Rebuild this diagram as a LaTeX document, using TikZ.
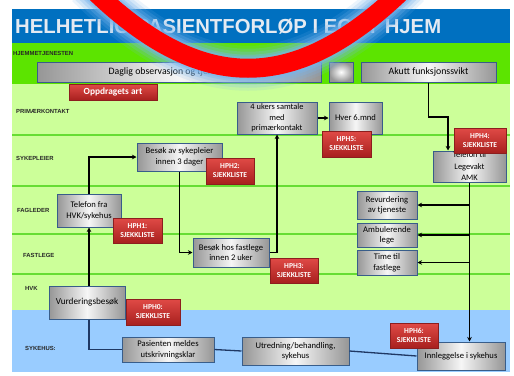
\documentclass[tikz,border=0pt]{standalone}
\usepackage{fontspec}
\setmainfont{Carlito}
\newfontfamily\arialfont{Liberation Sans}
\usetikzlibrary{arrows.meta,shadows}

\definecolor{titleblue}{RGB}{0,112,192}
\definecolor{titletext}{RGB}{228,234,242}
\definecolor{homegreen}{RGB}{92,228,0}
\definecolor{lanegreen}{RGB}{204,255,153}
\definecolor{laneline}{RGB}{102,221,51}
\definecolor{hospblue}{RGB}{153,204,255}
\definecolor{boxedge}{RGB}{56,93,138}
\definecolor{boxgray}{RGB}{150,150,150}
\definecolor{boxlight}{RGB}{246,246,246}
\definecolor{hphtop}{RGB}{224,74,70}
\definecolor{hphbot}{RGB}{168,32,30}
\definecolor{hphedge}{RGB}{140,30,30}
\definecolor{navyline}{RGB}{31,56,100}
\definecolor{swooshred}{RGB}{255,0,0}
\definecolor{glowblue}{RGB}{120,180,235}

% box from its corners: style, name, x1, y1, x2, y2, text
\newcommand\placebox[7]{%
  \pgfmathsetmacro\pbcx{(#3+#5)/2}\pgfmathsetmacro\pbcy{(#4+#6)/2}%
  \pgfmathsetmacro\pbw{#5-#3}\pgfmathsetmacro\pbh{#6-#4}%
  \node[#1, minimum width=\pbw pt, minimum height=\pbh pt] (#2) at (\pbcx,\pbcy) {#7};}

\begin{document}
\begin{tikzpicture}[x=1pt,y=-1pt,
  gbox/.style={draw=boxedge, line width=1pt, left color=boxgray, right color=boxgray,
    middle color=boxlight, align=center, inner sep=0pt, text=black,
    font=\fontsize{8.6}{10.5}\selectfont,
    drop shadow={shadow xshift=0.6pt, shadow yshift=-1pt, opacity=0.3}},
  hph/.style={draw=hphedge, line width=0.8pt, top color=hphtop, bottom color=hphbot,
    align=center, inner sep=0pt, text=white,
    font=\fontsize{7.6}{9}\selectfont\bfseries,
    drop shadow={shadow xshift=0.8pt, shadow yshift=-1.2pt, opacity=0.4}},
  lanelabel/.style={anchor=west, inner sep=0pt, text=black!85,
    font=\arialfont\bfseries\fontsize{5.9}{6}\selectfont},
  flow/.style={draw=black, line width=1.1pt, -{Stealth[length=4.5pt,width=4.5pt]}},
  hosp/.style={draw=navyline, line width=1.3pt},
  laneedge/.style={draw=laneline, line width=1.5pt}]

\useasboundingbox (0,0) rectangle (514,375);
\fill[white] (0,0) rectangle (514,375);

% bands
\fill[titleblue] (12,9) rectangle (510,43);
\fill[homegreen] (12,43) rectangle (510,84);
\fill[lanegreen] (12,84) rectangle (510,310);
\fill[hospblue] (12,310) rectangle (510,372);
\foreach \ly in {135,186,234,274}
  \draw[laneedge] (12,\ly) -- (510,\ly);

% title and lane names
\node[anchor=base west, inner sep=0pt, text=titletext,
  font=\arialfont\bfseries\fontsize{20.3}{24}\selectfont] (title) at (15,33)
  {HELHETLIG PASIENTFORLØP I EGET HJEM};
\node[lanelabel] (lhome) at (13,53) {HJEMMETJENESTEN};
\node[lanelabel] (lprim) at (16,111) {PRIMÆRKONTAKT};
\node[lanelabel] (lsyk) at (16,158) {SYKEPLEIER};
\node[lanelabel] (lfag) at (17,210) {FAGLEDER};
\node[lanelabel] (lfast) at (23,255) {FASTLEGE};
\node[lanelabel] (lhvk) at (25,288) {HVK};
\node[lanelabel] (lsh) at (25,348) {SYKEHUS:};

% process boxes
\placebox{gbox, font=\fontsize{9.8}{11}\selectfont}{daglig}{37}{62}{321}{82}
  {Daglig observasjon og tjenesteyting}
\placebox{gbox, inner color=white, outer color=boxgray}{blank}{329}{62}{353}{82}{}
\placebox{gbox, font=\fontsize{9.8}{11}\selectfont}{akutt}{361}{62}{496}{82}
  {Akutt funksjonssvikt}
\placebox{gbox, font=\fontsize{8.4}{10.5}\selectfont}{samtale}{237}{102}{317}{134}
  {4 ukers samtale\\med\\primærkontakt}
\placebox{gbox}{hver}{329}{102}{382}{134}{Hver 6.mnd}
\placebox{gbox, font=\fontsize{8.4}{11.5}\selectfont}{legevakt}{433}{151}{506}{182}
  {Telefon til\\Legevakt\\AMK}
\placebox{gbox}{besokspl}{137}{143}{222}{171}{Besøk av sykepleier\\innen 3 dager}
\placebox{gbox}{telfra}{57}{194}{121}{227}{Telefon fra\\HVK/sykehus}
\placebox{gbox}{besokfl}{193}{238}{269}{267}{Besøk hos fastlege\\innen 2 uker}
\placebox{gbox}{revurd}{357}{191}{417}{219}{Revurdering\\av tjeneste}
\placebox{gbox}{ambul}{357}{223}{417}{247}{Ambulerende\\lege}
\placebox{gbox}{timefl}{357}{250}{417}{275}{Time til\\fastlege}
\placebox{gbox, font=\fontsize{9.2}{11}\selectfont}{vurd}{49}{286}{125}{319}
  {Vurderingsbesøk}
\placebox{gbox}{meldes}{122}{337}{214}{362}{Pasienten meldes\\utskrivningsklar}
\placebox{gbox}{utred}{242}{337}{349}{365}{Utredning/behandling,\\sykehus}
\placebox{gbox}{innl}{417}{342}{505}{370}{Innleggelse i sykehus}

% connectors
\coordinate (bend) at (448,117);
\draw[flow] (akutt.south) |- (bend) -- (bend |- legevakt.north);
\draw[flow] (legevakt.south) -- (legevakt.south |- innl.north);
\draw[flow] (legevakt.south |- revurd.east) -- (revurd.east);
\draw[flow] (legevakt.south |- ambul.east) -- (ambul.east);
\draw[flow] (legevakt.south |- timefl.east) -- (timefl.east);
\draw[flow] (vurd.north -| telfra.south) -- (telfra.south);
\draw[flow] (telfra.north) |- (besokspl.west);
\draw[flow] (besokspl.south) |- (besokfl.west);
\draw[flow] (besokfl.east) -| (samtale.south);
\draw[flow] (samtale.east) -- (hver.west);
\draw[hosp] (vurd.south -| telfra.south) |- (meldes.west);
\draw[hosp] (meldes.east) -- (utred.west);
\draw[hosp] (utred.east) -- (innl.west);

% checklist tags
\placebox{hph, font=\fontsize{9.4}{10}\selectfont\bfseries}{oppdrag}{69}{84}{157}{100}
  {Oppdragets art}
\placebox{hph}{hph0}{126}{299}{180}{325}{HPH0:\\SJEKKLISTE}
\placebox{hph}{hph1}{113}{218}{162}{243}{HPH1:\\SJEKKLISTE}
\placebox{hph}{hph2}{206}{158}{254}{184}{HPH2:\\SJEKKLISTE}
\placebox{hph}{hph3}{270}{258}{318}{283}{HPH3:\\SJEKKLISTE}
\placebox{hph}{hph4}{454}{128}{506}{153}{HPH4:\\SJEKKLISTE}
\placebox{hph}{hph5}{322}{131}{371}{157}{HPH5:\\SJEKKLISTE}
\placebox{hph}{hph6}{390}{323}{438}{348}{HPH6:\\SJEKKLISTE}

% red swoosh with a soft blue glow
\begin{scope}
  \clip (0,0) rectangle (514,375);
  \foreach \w/\o in {45/0.14,39/0.2,33/0.28,27/0.4,23/0.5}
    \draw[glowblue, line width=\w pt, opacity=\o]
      (88,-15) .. controls (200,96) and (296,96) .. (408,-15);
  \draw[swooshred, line width=19pt]
    (88,-15) .. controls (200,96) and (296,96) .. (408,-15);
\end{scope}
\end{tikzpicture}
\end{document}
